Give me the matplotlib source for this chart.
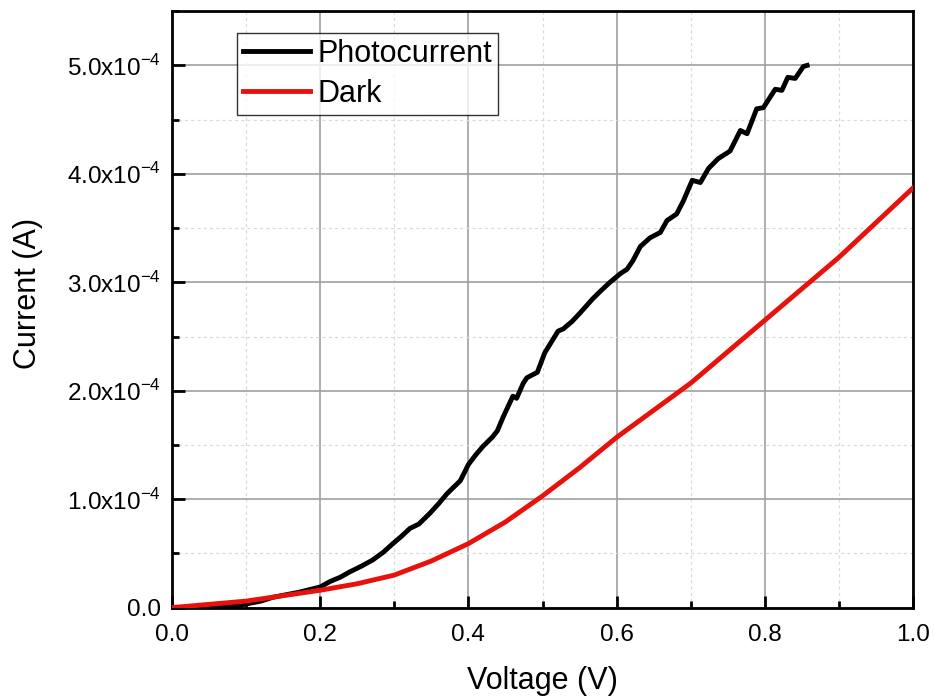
import numpy as np
import matplotlib
matplotlib.use("Agg")
import matplotlib.pyplot as plt
from matplotlib.ticker import MultipleLocator, FuncFormatter

plt.rcParams['font.family'] = ['Liberation Sans', 'DejaVu Sans']
plt.rcParams['mathtext.fontset'] = 'custom'
plt.rcParams['mathtext.rm'] = 'Liberation Sans'

# photocurrent (V, 1e-4 A)
photo_v = [0, 0.03, 0.06, 0.09, 0.12, 0.136, 0.17, 0.2, 0.213, 0.227, 0.24, 0.255,
           0.271, 0.285, 0.298, 0.31, 0.321, 0.333, 0.348, 0.36, 0.371, 0.389, 0.4,
           0.41, 0.42, 0.432, 0.439, 0.447, 0.46, 0.465, 0.474, 0.479, 0.493, 0.503,
           0.512, 0.521, 0.528, 0.54, 0.551, 0.568, 0.58, 0.591, 0.605, 0.614, 0.622,
           0.632, 0.645, 0.659, 0.668, 0.681, 0.69, 0.702, 0.713, 0.724, 0.737, 0.753,
           0.767, 0.776, 0.789, 0.798, 0.814, 0.823, 0.831, 0.841, 0.852, 0.857]
photo_i = [0.00, 0.00, 0.00, 0.02, 0.06, 0.095, 0.14, 0.19, 0.24, 0.28, 0.33, 0.38,
           0.44, 0.51, 0.59, 0.66, 0.73, 0.77, 0.87, 0.96, 1.05, 1.17, 1.32,
           1.41, 1.49, 1.57, 1.63, 1.76, 1.95, 1.93, 2.07, 2.12, 2.17, 2.35,
           2.45, 2.55, 2.57, 2.64, 2.72, 2.85, 2.93, 3.00, 3.08, 3.12, 3.20,
           3.33, 3.41, 3.46, 3.57, 3.63, 3.75, 3.94, 3.92, 4.05, 4.14, 4.21,
           4.40, 4.37, 4.60, 4.61, 4.78, 4.77, 4.89, 4.88, 4.99, 5.00]

# dark current
dark_v = [0, 0.05, 0.1, 0.15, 0.2, 0.25, 0.3, 0.35, 0.4, 0.45, 0.5, 0.55, 0.6,
          0.65, 0.7, 0.75, 0.8, 0.85, 0.9, 0.95, 1.0]
dark_i = [0, 0.03, 0.06, 0.11, 0.16, 0.22, 0.30, 0.43, 0.59, 0.79, 1.03, 1.29, 1.57,
          1.82, 2.07, 2.36, 2.65, 2.94, 3.23, 3.55, 3.87]

fig = plt.figure(figsize=(9.35, 7), dpi=100)
ax = fig.add_axes([0.184, 0.132, 0.7925, 0.852])

ax.plot(photo_v, np.array(photo_i) * 1e-4, color='black', lw=3.5, label='Photocurrent', zorder=3)
ax.plot(dark_v, np.array(dark_i) * 1e-4, color='#e8120c', lw=3.5, label='Dark', zorder=4)

ax.set_xlim(0, 1.0)
ax.set_ylim(0, 5.5e-4)
ax.xaxis.set_major_locator(MultipleLocator(0.2))
ax.xaxis.set_minor_locator(MultipleLocator(0.1))
ax.yaxis.set_major_locator(MultipleLocator(1e-4))
ax.yaxis.set_minor_locator(MultipleLocator(0.5e-4))


def yfmt(y, pos):
    m = y / 1e-4
    if abs(m) < 1e-9:
        return '0.0'
    return '%.1fx10$^{-4}$' % m


ax.yaxis.set_major_formatter(FuncFormatter(yfmt))
ax.xaxis.set_major_formatter(FuncFormatter(lambda x, p: '%.1f' % x))

ax.grid(which='major', color='#a0a0a0', lw=1.2, ls='-')
ax.grid(which='minor', color='#dadada', lw=0.9, ls=(0, (2.5, 2.5)))
ax.set_axisbelow(True)

for s in ax.spines.values():
    s.set_linewidth(2)
ax.tick_params(which='both', direction='in', top=False, right=False, width=2, labelsize=17.5)
ax.tick_params(which='major', length=9)
ax.tick_params(axis='x', which='major', pad=12)
ax.tick_params(axis='y', which='major', pad=8)
ax.tick_params(which='minor', length=5)

ax.set_xlabel('Voltage (V)', fontsize=22, labelpad=14)
ax.set_ylabel('Current (A)', fontsize=22)
ax.yaxis.set_label_coords(-0.174, 0.527)

leg = ax.legend(loc='upper left', bbox_to_anchor=(0.087, 0.964), fontsize=22,
                frameon=True, fancybox=False, handlelength=2.2, borderpad=0.2,
                labelspacing=0.32, handletextpad=0.25, borderaxespad=0)
leg.get_frame().set_edgecolor('black')
leg.get_frame().set_linewidth(1)

fig.savefig('out.png', dpi=100)
